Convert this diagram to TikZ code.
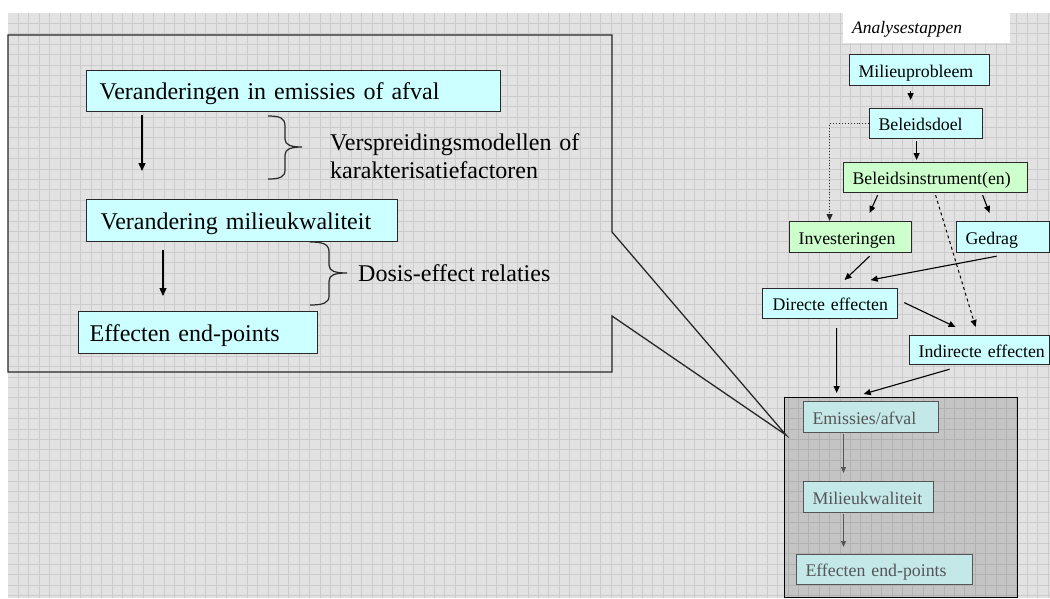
\documentclass[tikz,border=0pt]{standalone}
\usepackage{fontspec}
\setmainfont{Liberation Serif}
\usetikzlibrary{arrows.meta,calc}
\definecolor{bg}{RGB}{226,226,226}
\definecolor{gridc}{RGB}{204,204,204}
\definecolor{cy}{RGB}{204,255,255}
\definecolor{gn}{RGB}{204,255,204}
\definecolor{bord}{RGB}{40,40,40}
\definecolor{fade}{RGB}{85,85,85}
\definecolor{fadecy}{RGB}{196,232,232}
\begin{document}
\begin{tikzpicture}[x=1pt,y=-1pt,
  bigf/.style={font=\fontsize{24}{27.5}\selectfont, text height=20pt, text depth=3pt},
  smallf/.style={font=\fontsize{17.8}{21}\selectfont, text height=16pt, text depth=2pt},
  bx/.style={draw=bord, line width=1.2pt, anchor=north west, inner xsep=0pt, inner ysep=0pt, align=left},
  padl/.style={execute at begin node={\hspace*{#1pt}}},
  cybox/.style={bx, fill=cy},
  gnbox/.style={bx, fill=gn},
  fbox/.style={bx, draw=fade, line width=1pt, fill=fadecy, text=fade},
  bigarr/.style={line width=1.3pt, black, -{Triangle[length=8pt,width=7pt]}},
  sarr/.style={line width=1.1pt, black, -{Triangle[length=7pt,width=6pt]}},
  farr/.style={line width=1pt, fade, -{Triangle[length=6pt,width=5pt]}},
  brace/.style={line width=1.2pt, bord}
]
\useasboundingbox (0,0) rectangle (1050,598);
\fill[white] (0,0) rectangle (1050,598);
\fill[bg] (8,13) rectangle (1050,598);
\foreach \i in {1,...,100} \draw[gridc, line width=0.9pt] ({8+10.4*\i},13) -- ({8+10.4*\i},598);
\foreach \j in {1,...,56} \draw[gridc, line width=0.9pt] (8,{13+10.4*\j}) -- (1050,{13+10.4*\j});

% gray detail box
\node[draw=black, line width=1.3pt, fill=black, fill opacity=0.13, anchor=north west,
      minimum width=233pt, minimum height=200pt, inner sep=0pt] (gb) at (784,397) {};

% callout
\coordinate (ctip) at (786,435);
\draw[line width=1.3pt, bord] (8,35) -- (612,35) -- (612,232) -- (ctip) -- (612,316) -- (612,372) -- (8,372) -- cycle;

% left boxes
\node[cybox, bigf, text width=414pt, minimum height=41pt, padl=13] (b1) at (86,70) {Veranderingen in emissies of afval};
\node[cybox, bigf, text width=311pt, minimum height=42pt, padl=14] (b2) at (86,199) {Verandering milieukwaliteit};
\node[cybox, bigf, text width=239pt, minimum height=42pt, padl=11] (b3) at (78,311) {Effecten end-points};

\coordinate (a1s) at (142,115);
\coordinate (a1e) at (142,171);
\coordinate (a2s) at (163,250);
\coordinate (a2e) at (163,296);
\draw[bigarr] (a1s) -- (a1e);
\draw[bigarr] (a2s) -- (a2e);

% braces
\draw[brace] (268,116) .. controls (280,116) and (285,118) .. (285,126) -- (285,139)
  .. controls (285,145) and (291,147) .. (302,147)
  .. controls (291,147) and (285,149) .. (285,155) -- (285,170)
  .. controls (285,177) and (280,179) .. (268,179);
\draw[brace] (310,242) .. controls (323,242) and (329,244) .. (329,252) -- (329,265)
  .. controls (329,271) and (335,273) .. (347,273)
  .. controls (335,273) and (329,275) .. (329,281) -- (329,296)
  .. controls (329,303) and (323,305) .. (310,305);

\node[anchor=base west, inner sep=0pt, text width=290pt, align=left, font=\fontsize{24}{27.5}\selectfont] (t1) at (330,150.7)
  {Verspreidingsmodellen of\\karakterisatiefactoren};
\node[anchor=base west, inner sep=0pt, font=\fontsize{24}{27.5}\selectfont] (t2) at (358,281) {Dosis-effect relaties};

% right panel
\node[anchor=north west, fill=white, inner xsep=0pt, inner ysep=0pt, text width=167pt, minimum height=30pt,
      align=left, font=\itshape\fontsize{17.5}{21}\selectfont, text height=12pt, text depth=2pt, padl=9] (hd) at (843,13) {Analysestappen};

\node[cybox, smallf, text width=140pt, minimum height=31pt, padl=9] (m1) at (849,54) {Milieuprobleem};
\node[cybox, smallf, text width=113pt, minimum height=30pt, padl=9] (m2) at (869,108) {Beleidsdoel};
\node[gnbox, smallf, text width=184pt, minimum height=30pt, padl=9] (m3) at (843,162) {Beleidsinstrument(en)};
\node[gnbox, smallf, text width=122pt, minimum height=31pt, padl=9] (m4) at (789,221) {Investeringen};
\node[cybox, smallf, text width=93pt, minimum height=31pt, padl=9] (m5) at (956,221) {Gedrag};
\node[cybox, smallf, text width=135pt, minimum height=30pt, padl=10] (m6) at (762,288) {Directe effecten};
\node[cybox, smallf, text width=140pt, minimum height=29pt, padl=9] (m7) at (909,335) {Indirecte effecten};

\draw[sarr] ([xshift=-9pt,yshift=-5pt]m1.south) -- ([xshift=-15.5pt,yshift=8pt]m2.north);
\draw[sarr] ([xshift=-9.5pt,yshift=-2pt]m2.south) -- ([xshift=-19pt,yshift=2pt]m3.north);
\draw[sarr] ([xshift=-58pt,yshift=-2pt]m3.south) -- ([xshift=19pt,yshift=8pt]m4.north);
\draw[sarr] ([xshift=47pt,yshift=-2pt]m3.south) -- ([xshift=-13.5pt,yshift=8pt]m5.north);
\draw[line width=1pt, black, dashed, -{Triangle[length=7pt,width=6pt]}] ([yshift=-2pt]m3.south) -- ([xshift=-4pt,yshift=8pt]m7.north);
\draw[line width=0.9pt, bord, dotted, -{Triangle[length=7pt,width=6pt]}] (m2.west) -| ([xshift=-21pt]m4.north);
\draw[sarr] ([xshift=19pt,yshift=-3pt]m4.south) -- ([xshift=14.5pt,yshift=8pt]m6.north);
\draw[sarr] ([xshift=-6.5pt,yshift=-3pt]m5.south) -- ([xshift=40.5pt,yshift=8pt]m6.north);
\draw[sarr] ([xshift=6pt,yshift=1pt]m6.east) -- ([xshift=-24pt,yshift=8pt]m7.north);
\draw[sarr] ([xshift=6.5pt,yshift=-9pt]m6.south) -- ([xshift=-64.5pt,yshift=4pt]gb.north);
\draw[sarr] ([xshift=-30pt,yshift=-4pt]m7.south) -- ([xshift=-37.5pt,yshift=3pt]gb.north);

% faded detail boxes
\node[fbox, smallf, text width=135pt, minimum height=31pt, padl=9] (g1) at (803,401) {Emissies/afval};
\node[fbox, smallf, text width=130pt, minimum height=31pt, padl=9] (g2) at (803,481) {Milieukwaliteit};
\node[fbox, smallf, text width=176pt, minimum height=30pt, padl=9] (g3) at (796,554) {Effecten end-points};
\draw[farr] ([xshift=-27.5pt,yshift=-1pt]g1.south) -- ([xshift=-25pt,yshift=8pt]g2.north);
\draw[farr] ([xshift=-25pt,yshift=-1pt]g2.south) -- ([xshift=-41pt,yshift=7pt]g3.north);
\end{tikzpicture}
\end{document}
